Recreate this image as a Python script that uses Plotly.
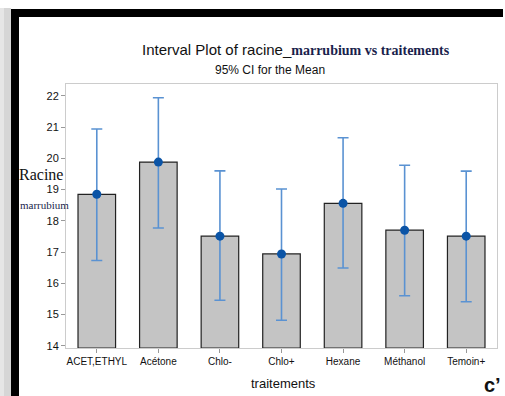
import plotly.graph_objects as go

categories = ["ACET,ETHYL", "Acétone", "Chlo-", "Chlo+", "Hexane", "Méthanol", "Temoin+"]
means = [18.85, 19.88, 17.51, 16.94, 18.56, 17.70, 17.51]
ci_upper = [20.94, 21.94, 19.60, 19.02, 20.66, 19.78, 19.59]
ci_lower = [16.73, 17.77, 15.46, 14.82, 16.49, 15.60, 15.41]
y_ticks = [14, 15, 16, 17, 18, 19, 20, 21, 22]

W, H = 505, 396
ML, MR, MT, MB = 66, 8, 84, 48
Y_MIN, Y_MAX = 13.93, 22.38

def px_x(p):
    return (p - ML) / (W - ML - MR)

def px_y(p):
    return (H - MB - p) / (H - MT - MB)

err_plus = [u - m for u, m in zip(ci_upper, means)]
err_minus = [m - l for m, l in zip(means, ci_lower)]

fig = go.Figure()
fig.add_trace(go.Bar(
    x=categories, y=[m - Y_MIN for m in means], base=Y_MIN,
    width=0.61,
    marker=dict(color="#c4c4c4", line=dict(color="#222222", width=1.2)),
    hoverinfo="skip", showlegend=False,
))
fig.add_trace(go.Scatter(
    x=categories, y=means, mode="markers",
    marker=dict(color="#0b54a6", size=9),
    error_y=dict(type="data", symmetric=False, array=err_plus, arrayminus=err_minus,
                 color="#5a92d2", thickness=1.6, width=5.5),
    showlegend=False,
))

sans = "Liberation Sans, Arial, sans-serif"
serif = "Liberation Serif, Times New Roman, serif"

fig.update_layout(
    width=W, height=H,
    margin=dict(l=ML, r=MR, t=MT, b=MB),
    paper_bgcolor="white", plot_bgcolor="white",
    xaxis=dict(
        range=[-0.5, 6.5], showline=True, mirror=True, linecolor="#cccccc", linewidth=1,
        ticks="outside", ticklen=4, tickcolor="#999999",
        tickfont=dict(family=sans, size=10, color="#111111"),
        showgrid=False, zeroline=False,
    ),
    yaxis=dict(
        range=[Y_MIN, Y_MAX], tickvals=y_ticks, showline=True, mirror=True,
        linecolor="#cccccc", linewidth=1,
        ticks="outside", ticklen=4, tickcolor="#999999",
        tickfont=dict(family=sans, size=11, color="#111111"),
        showgrid=False, zeroline=False,
    ),
)

annotations = [
    dict(x=px_x(296), y=px_y(49), xref="paper", yref="paper", showarrow=False,
         text=('<span style="font-family:Liberation Sans, Arial, sans-serif;font-size:15px;color:#111111">'
               'Interval Plot of racine_</span>'
               '<span style="font-family:Liberation Serif, Times New Roman, serif;font-size:14px;color:#1a1f4d">'
               '<b>marrubium vs traitements</b></span>'),
         xanchor="center", yanchor="middle"),
    dict(x=px_x(270), y=px_y(70), xref="paper", yref="paper", showarrow=False,
         text="95% CI for the Mean", font=dict(family=sans, size=12, color="#111111"),
         xanchor="center", yanchor="middle"),
    dict(x=px_x(41), y=px_y(174), xref="paper", yref="paper", showarrow=False,
         text="Racine", font=dict(family=serif, size=16, color="#111111"),
         xanchor="center", yanchor="middle"),
    dict(x=px_x(44), y=px_y(205), xref="paper", yref="paper", showarrow=False,
         text="marrubium", font=dict(family=serif, size=11, color="#1a1f4d"),
         xanchor="center", yanchor="middle"),
    dict(x=px_x(283), y=px_y(383), xref="paper", yref="paper", showarrow=False,
         text="traitements", font=dict(family=sans, size=13, color="#111111"),
         xanchor="center", yanchor="middle"),
    dict(x=px_x(492), y=px_y(385), xref="paper", yref="paper", showarrow=False,
         text="<b>c’</b>", font=dict(family=sans, size=20, color="#111111"),
         xanchor="center", yanchor="middle"),
]
fig.update_layout(annotations=annotations)

shapes = [
    dict(type="rect", xref="paper", yref="paper", x0=px_x(0), x1=px_x(11), y0=px_y(396), y1=px_y(8),
         fillcolor="#e6e6e6", line=dict(width=0), layer="below"),
    dict(type="rect", xref="paper", yref="paper", x0=px_x(4), x1=px_x(11), y0=px_y(396), y1=px_y(8),
         fillcolor="#d6d6d6", line=dict(width=0), layer="below"),
    dict(type="rect", xref="paper", yref="paper", x0=px_x(11), x1=px_x(19), y0=px_y(396), y1=px_y(9),
         fillcolor="#000000", line=dict(width=0)),
    dict(type="rect", xref="paper", yref="paper", x0=px_x(11), x1=px_x(503), y0=px_y(17), y1=px_y(9),
         fillcolor="#000000", line=dict(width=0)),
]
fig.update_layout(shapes=shapes)

fig.write_html("out.html")
